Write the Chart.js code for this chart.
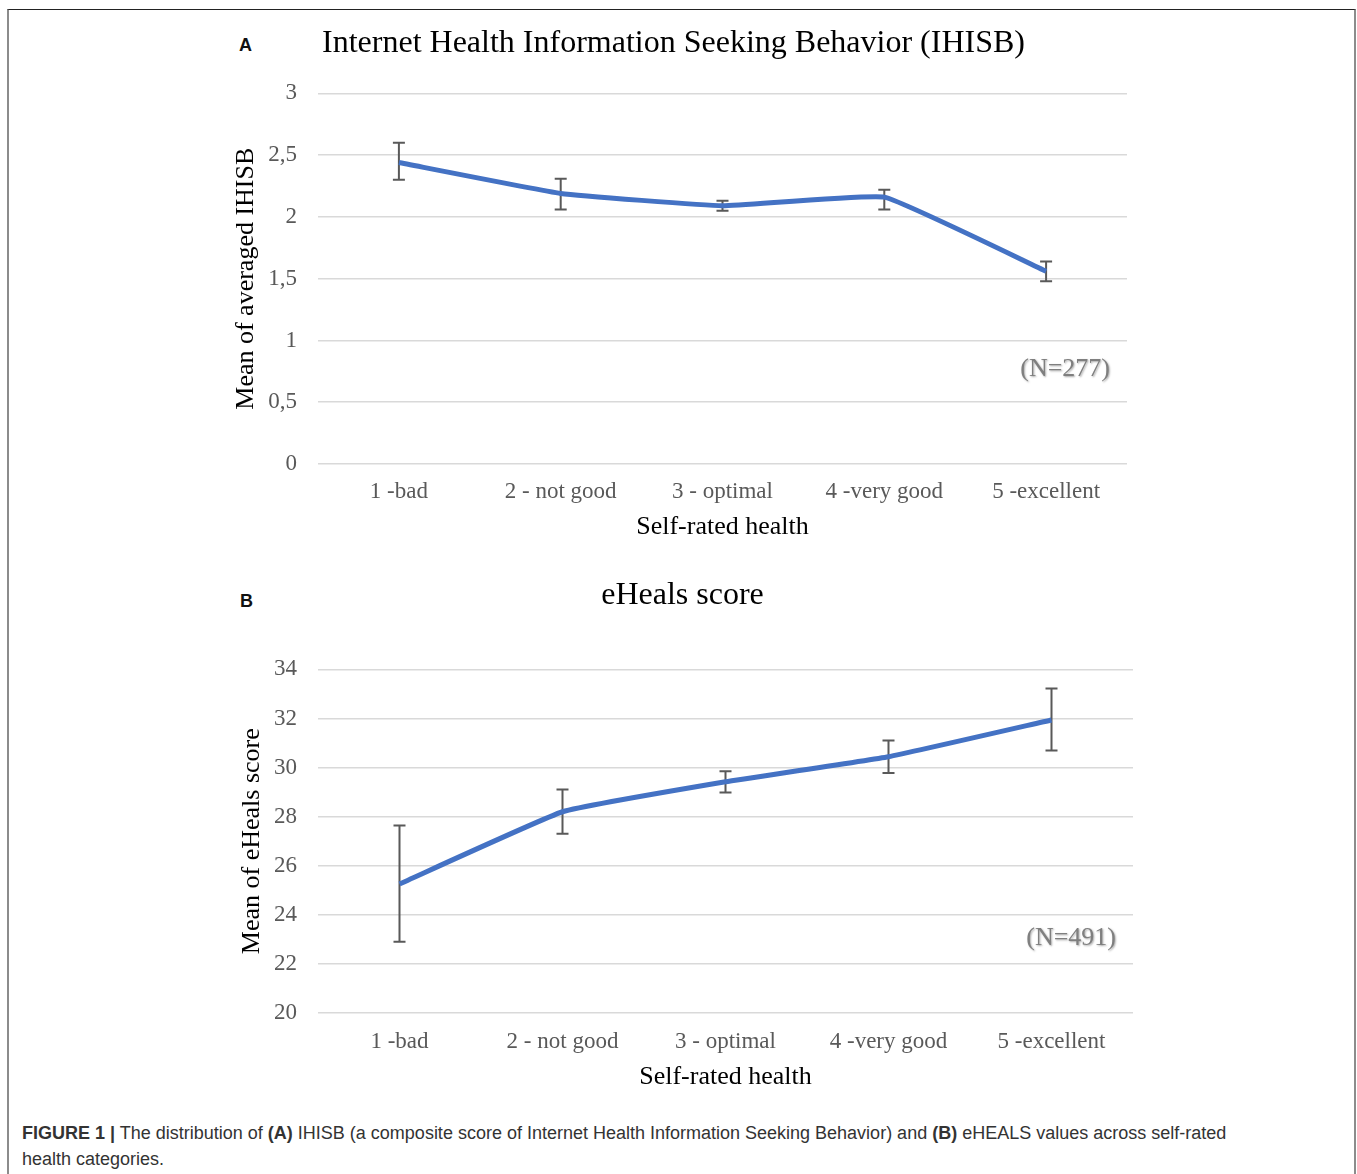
<!DOCTYPE html>
<html>
<head>
<meta charset="utf-8">
<script src="https://cdn.jsdelivr.net/npm/chart.js@4.4.1/dist/chart.umd.min.js"></script>
<style>
  body { margin: 0; background: #fff; width: 1357px; height: 1174px; position: relative; overflow: hidden; }
  .frame { position: absolute; left: 7px; top: 9px; width: 1345px; height: 1200px;
           border-top: 1px solid #222; border-left: 2px solid #8c8c8c; border-right: 2px solid #8c8c8c; }
  canvas { position: absolute; }
  .panel { position: absolute; font: bold 18px/20px "Liberation Sans", Arial, sans-serif; color: #111; }
  .caption { position: absolute; left: 22px; top: 1120px; width: 1215px;
             font: 18px/26px "Liberation Sans", Arial, sans-serif; color: #333; }
</style>
</head>
<body>
<div class="frame"></div>
<div class="panel" style="left:239px; top:35px;">A</div>
<div class="panel" style="left:240px; top:591px;">B</div>
<canvas id="chartA" width="912" height="540" style="left:220px; top:15px;"></canvas>
<canvas id="chartB" width="925" height="545" style="left:220px; top:560px;"></canvas>
<div class="caption"><b>FIGURE 1 |</b> The distribution of <b>(A)</b> IHISB (a composite score of Internet Health Information Seeking Behavior) and <b>(B)</b> eHEALS values across self-rated health categories.</div>

<script>
const categories = ["1 -bad", "2 - not good", "3 - optimal", "4 -very good", "5 -excellent"];

// panel A: IHISB means and error bar ends
const ihisbMean = [2.44, 2.19, 2.09, 2.16, 1.56];
const ihisbLow  = [2.30, 2.06, 2.05, 2.06, 1.48];
const ihisbHigh = [2.60, 2.31, 2.13, 2.22, 1.64];

// panel B: eHEALS means and error bar ends
const ehealsMean = [25.26, 28.20, 29.42, 30.44, 31.94];
const ehealsLow  = [22.90, 27.30, 28.98, 29.78, 30.70];
const ehealsHigh = [27.64, 29.11, 29.85, 31.10, 33.22];

const serif = "'Liberation Serif', 'Times New Roman', serif";
const tickGray = "#595959";

// whiskers, drawn under the line
const errorBars = {
  id: "errorBars",
  beforeDatasetsDraw(chart, args, opts) {
    const { ctx } = chart;
    const x = chart.scales.x, y = chart.scales.y;
    ctx.save();
    ctx.strokeStyle = "#595959";
    ctx.lineWidth = 2;
    opts.low.forEach((lo, i) => {
      const px = x.getPixelForValue(i);
      const y1 = y.getPixelForValue(lo), y2 = y.getPixelForValue(opts.high[i]);
      ctx.beginPath();
      ctx.moveTo(px, y1); ctx.lineTo(px, y2);
      ctx.moveTo(px - 6, y1); ctx.lineTo(px + 6, y1);
      ctx.moveTo(px - 6, y2); ctx.lineTo(px + 6, y2);
      ctx.stroke();
    });
    ctx.restore();
  }
};

// "(N=...)" note inside the plot
const sampleNote = {
  id: "sampleNote",
  afterDatasetsDraw(chart, args, opts) {
    const { ctx, chartArea } = chart;
    ctx.save();
    ctx.font = "26px " + serif;
    ctx.fillStyle = "#7f7f7f";
    ctx.textAlign = "right";
    ctx.textBaseline = "middle";
    ctx.shadowColor = "rgba(0,0,0,0.35)";
    ctx.shadowOffsetX = 1;
    ctx.shadowOffsetY = 1;
    ctx.shadowBlur = 2;
    ctx.fillText(opts.text, chartArea.right - 17, chart.scales.y.getPixelForValue(opts.y));
    ctx.restore();
  }
};

function makeChart(id, cfg) {
  return new Chart(document.getElementById(id), {
    type: "line",
    data: {
      labels: categories,
      datasets: [{
        data: cfg.mean,
        borderColor: "#4472C4",
        borderWidth: 5,
        pointRadius: 0,
        tension: 0.1,
        fill: false,
      }],
    },
    plugins: [errorBars, sampleNote],
    options: {
      responsive: false,
      animation: false,
      layout: { padding: { left: cfg.padLeft, right: cfg.padRight, top: 0, bottom: 0 } },
      plugins: {
        legend: { display: false },
        tooltip: { enabled: false },
        title: {
          display: true,
          text: cfg.title,
          color: "#000",
          font: { family: serif, size: 32, weight: "normal" },
          padding: cfg.titlePad,
        },
        errorBars: { low: cfg.low, high: cfg.high },
        sampleNote: { text: cfg.note, y: cfg.noteY },
      },
      scales: {
        x: {
          offset: true,
          grid: { display: false, drawTicks: false },
          border: { display: false },
          ticks: { padding: cfg.xTickPad, color: tickGray, maxRotation: 0, font: { family: serif, size: 23 } },
          title: {
            display: true,
            text: "Self-rated health",
            color: "#000",
            font: { family: serif, size: 26 },
            padding: { top: 0, bottom: 12 },
          },
          afterFit: (s) => { s.height = cfg.xHeight; },
        },
        y: {
          min: cfg.min,
          max: cfg.max,
          grid: { color: "#d9d9d9", lineWidth: 1.5, drawTicks: false },
          border: { display: false },
          ticks: {
            stepSize: cfg.step,
            padding: 21,
            color: tickGray,
            font: { family: serif, size: 23 },
            callback: (v) => String(v).replace(".", ","),
          },
          title: {
            display: true,
            text: cfg.yTitle,
            color: "#000",
            font: { family: serif, size: 26 },
            padding: { top: cfg.yTitlePad, bottom: 0 },
          },
          afterFit: (s) => { s.width = cfg.yWidth; },
        },
      },
    },
  });
}

makeChart("chartA", {
  title: "Internet Health Information Seeking Behavior (IHISB)",
  titlePad: { top: 9, bottom: 31 },
  mean: ihisbMean, low: ihisbLow, high: ihisbHigh,
  min: 0, max: 3, step: 0.5,
  yTitle: "Mean of averaged IHISB", yTitlePad: 11, yWidth: 98,
  note: "(N=277)", noteY: 0.77,
  padLeft: 0, padRight: 5, xTickPad: 14, xHeight: 91,
});

makeChart("chartB", {
  title: "eHeals score",
  titlePad: { top: 16, bottom: 55 },
  mean: ehealsMean, low: ehealsLow, high: ehealsHigh,
  min: 20, max: 34, step: 2,
  yTitle: "Mean of eHeals score", yTitlePad: 5, yWidth: 86,
  note: "(N=491)", noteY: 23.05,
  padLeft: 12, padRight: 12, xTickPad: 15, xHeight: 92,
});
</script>
</body>
</html>
